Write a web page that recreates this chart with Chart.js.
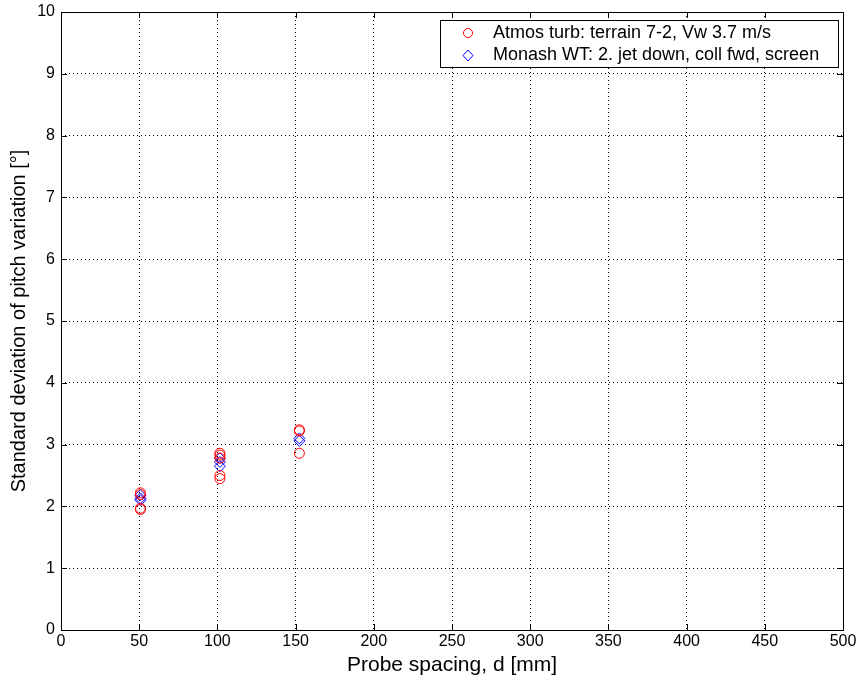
<!DOCTYPE html>
<html>
<head>
<meta charset="utf-8">
<script src="https://cdn.jsdelivr.net/npm/chart.js@4.4.1/dist/chart.umd.min.js"></script>
<style>
html,body{margin:0;padding:0;background:#fff;}
#wrap{width:863px;height:685px;position:relative;}
</style>
</head>
<body>
<div id="wrap"><canvas id="c" width="863" height="685"></canvas></div>
<script>
// ---- data ----
const atmosX = [50.8, 50.8, 50.8, 50.8, 101.6, 101.6, 101.6, 101.6, 101.6, 152.4, 152.4, 152.4];
const atmosY = [2.22, 2.19, 1.97, 1.95, 2.86, 2.83, 2.78, 2.50, 2.45, 3.24, 3.22, 2.86];
const monashX = [50.8, 50.8, 50.8, 101.6, 101.6, 101.6, 152.4, 152.4];
const monashY = [2.18, 2.13, 2.10, 2.78, 2.72, 2.65, 3.10, 3.06];
const seriesNames = ['Atmos turb: terrain 7-2, Vw 3.7 m/s', 'Monash WT: 2. jet down, coll fwd, screen'];
const xTicks = [0, 50, 100, 150, 200, 250, 300, 350, 400, 450, 500];
const yTicks = [0, 1, 2, 3, 4, 5, 6, 7, 8, 9, 10];
const xTitle = 'Probe spacing, d [mm]';
const yTitle = 'Standard deviation of pitch variation [°]';

const FONT = '"Liberation Sans", Arial, sans-serif';

function pts(xs, ys){ return xs.map((x,i)=>({x:x, y:ys[i]})); }

const boxPlugin = {
  id: 'boxPlugin',
  afterDraw(chart){
    const ctx = chart.ctx, a = chart.chartArea;
    const xs = chart.scales.x, ys = chart.scales.y;
    ctx.save();
    ctx.strokeStyle = '#000';
    ctx.lineWidth = 1;
    ctx.beginPath();
    xTicks.forEach(v=>{
      const px = Math.round(xs.getPixelForValue(v)) + 0.5;
      ctx.moveTo(px, a.bottom); ctx.lineTo(px, a.bottom - 6);
      ctx.moveTo(px, a.top); ctx.lineTo(px, a.top + 6);
    });
    yTicks.forEach(v=>{
      const py = Math.round(ys.getPixelForValue(v)) + 0.5;
      ctx.moveTo(a.left, py); ctx.lineTo(a.left + 6, py);
      ctx.moveTo(a.right, py); ctx.lineTo(a.right - 6, py);
    });
    ctx.stroke();
    ctx.strokeRect(Math.round(a.left)+0.5, Math.round(a.top)+0.5, Math.round(a.right-a.left), Math.round(a.bottom-a.top));
    // legend box
    const lx = 440, ly = 20, lw = 398, lh = 47;
    ctx.fillStyle = '#fff';
    ctx.fillRect(lx, ly, lw, lh);
    ctx.strokeRect(lx+0.5, ly+0.5, lw, lh);
    ctx.strokeStyle = '#ff0000';
    ctx.beginPath(); ctx.arc(468, 33, 4.5, 0, Math.PI*2); ctx.stroke();
    ctx.strokeStyle = '#0000ff';
    ctx.beginPath();
    ctx.moveTo(468, 50); ctx.lineTo(473, 55.5); ctx.lineTo(468, 61); ctx.lineTo(463, 55.5); ctx.closePath();
    ctx.stroke();
    ctx.fillStyle = '#000';
    ctx.font = '18px ' + FONT;
    ctx.textBaseline = 'middle';
    ctx.textAlign = 'left';
    ctx.fillText(seriesNames[0], 493, 33);
    ctx.fillText(seriesNames[1], 493, 55);
    ctx.restore();
  }
};

new Chart(document.getElementById('c'), {
  type: 'scatter',
  data: {
    datasets: [
      { label: seriesNames[0], data: pts(atmosX, atmosY), pointStyle: 'circle', pointRadius: 5,
        borderColor: '#ff0000', backgroundColor: 'rgba(0,0,0,0)', borderWidth: 1, pointHoverRadius: 5 },
      { label: seriesNames[1], data: pts(monashX, monashY), pointStyle: 'rectRot', pointRadius: 5.5,
        borderColor: '#0000ff', backgroundColor: 'rgba(0,0,0,0)', borderWidth: 1, pointHoverRadius: 5.5 }
    ]
  },
  options: {
    responsive: false,
    animation: false,
    devicePixelRatio: 1,
    layout: { padding: { top: 12, right: 20, left: 0, bottom: 0 } },
    plugins: { legend: { display: false }, tooltip: { enabled: false } },
    scales: {
      x: {
        type: 'linear', min: 0, max: 500,
        afterBuildTicks: s => { s.ticks = xTicks.map(v=>({value:v})); },
        afterFit: s => { s.height = 55; s.paddingLeft = 0; s.paddingRight = 0; },
        ticks: { color: '#000', font: { family: FONT, size: 16 }, padding: 2, maxRotation: 0 },
        grid: { color: '#000', lineWidth: 1, drawTicks: false, tickLength: 0 },
        border: { display: false, dash: [1, 3] },
        title: { display: true, text: xTitle, color: '#000', font: { family: FONT, size: 21 }, padding: { top: 0, bottom: 7 } }
      },
      y: {
        type: 'linear', min: 0, max: 10,
        afterBuildTicks: s => { s.ticks = yTicks.map(v=>({value:v})); },
        afterFit: s => { s.width = 61; s.paddingTop = 0; s.paddingBottom = 0; },
        ticks: { color: '#000', font: { family: FONT, size: 16 }, padding: 6 },
        grid: { color: '#000', lineWidth: 1, drawTicks: false, tickLength: 0 },
        border: { display: false, dash: [1, 3] },
        title: { display: true, text: yTitle, color: '#000', font: { family: FONT, size: 20 }, padding: { top: 7, bottom: 0 } }
      }
    }
  },
  plugins: [boxPlugin]
});
</script>
</body>
</html>
